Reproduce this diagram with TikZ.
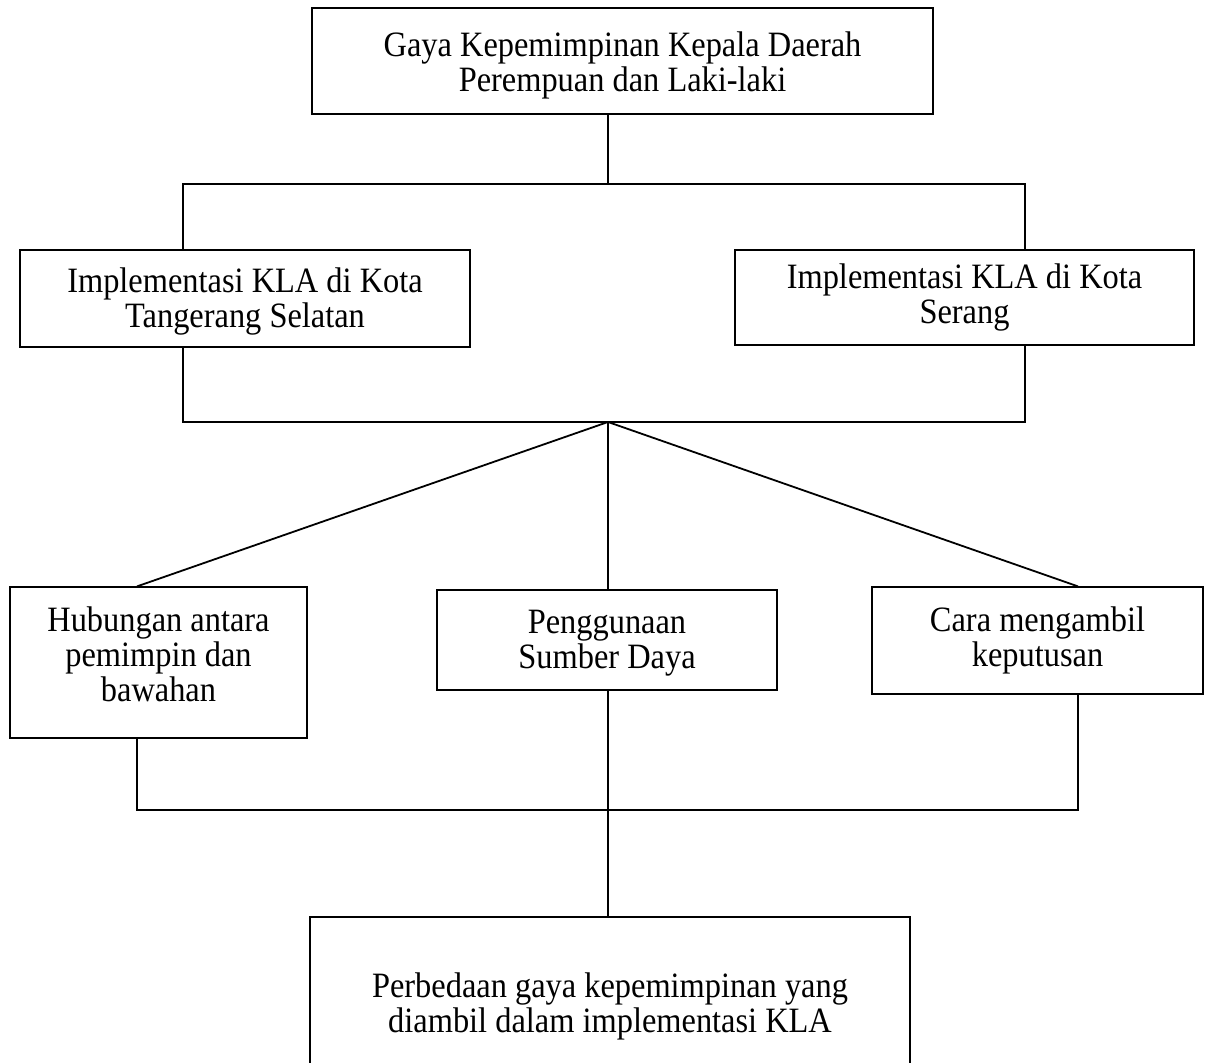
\documentclass[tikz,border=0pt]{standalone}
\usepackage{graphicx}
\usepackage{fontspec}
\setmainfont{Liberation Serif}
\newcommand{\stretchtext}[1]{\scalebox{1}[1.1]{\begin{tabular}{@{}c@{}}#1\end{tabular}}}
\begin{document}
\begin{tikzpicture}[x=0.5pt,y=-0.5pt,
  box/.style={draw, line width=0.6pt, inner sep=0pt},
  txt/.style={align=center, inner sep=0pt, font=\fontsize{16.2}{15.9}\selectfont},
  conn/.style={line width=0.9pt}]
\useasboundingbox (0,0) rectangle (1211,1063);
% boxes
\node[box, minimum width=310.5pt, minimum height=53pt] (top) at (622.5,61) {};
\node[txt] (topt) at (622.5,67) {\stretchtext{Gaya Kepemimpinan Kepala Daerah\\Perempuan dan Laki-laki}};
\node[box, minimum width=225pt, minimum height=48.5pt] (l1) at (245,298.5) {};
\node[txt] (l1t) at (245,303) {\stretchtext{Implementasi KLA di Kota\\Tangerang Selatan}};
\node[box, minimum width=229.5pt, minimum height=47.5pt] (r1) at (964.5,297.5) {};
\node[txt] (r1t) at (964.5,298.5) {\stretchtext{Implementasi KLA di Kota\\Serang}};
\node[box, minimum width=148.5pt, minimum height=75.5pt] (bl) at (158.5,662.5) {};
\node[txt] (blt) at (158.5,659.5) {\stretchtext{Hubungan antara\\pemimpin dan\\bawahan}};
\node[box, minimum width=170pt, minimum height=50pt] (bm) at (607,640) {};
\node[txt] (bmt) at (607,644) {\stretchtext{Penggunaan\\Sumber Daya}};
\node[box, minimum width=165.5pt, minimum height=53.5pt] (br) at (1037.5,640.5) {};
\node[txt] (brt) at (1037.5,642) {\stretchtext{Cara mengambil\\keputusan}};
\node[box, minimum width=300pt, minimum height=91.5pt] (bot) at (610,1008.5) {};
\node[txt] (bott) at (610,1007.5) {\stretchtext{Perbedaan gaya kepemimpinan yang\\diambil dalam implementasi KLA}};
% junction coordinates
\coordinate (j1) at (608,184);
\coordinate (h1l) at (183,184);
\coordinate (h1r) at (1025,184);
\coordinate (h2l) at (183,422);
\coordinate (h2r) at (1025,422);
\coordinate (j2) at (608,422);
\coordinate (xa) at (137,810);
\coordinate (xb) at (1078,810);
\coordinate (j3) at (608,810);
% connectors
\draw[conn] (top.south -| j1) -- (j1);
\draw[conn] (l1.north -| h1l) -- (h1l) -- (h1r) -- (r1.north -| h1r);
\draw[conn] (l1.south -| h2l) -- (h2l) -- (h2r) -- (r1.south -| h2r);
\draw[conn] (j2) -- (bl.north -| xa);
\draw[conn] (j2) -- (bm.north -| j3);
\draw[conn] (j2) -- (br.north -| xb);
\draw[conn] (bl.south -| xa) -- (xa) -- (xb) -- (br.south -| xb);
\draw[conn] (bm.south -| j3) -- (bot.north -| j3);
\end{tikzpicture}
\end{document}
